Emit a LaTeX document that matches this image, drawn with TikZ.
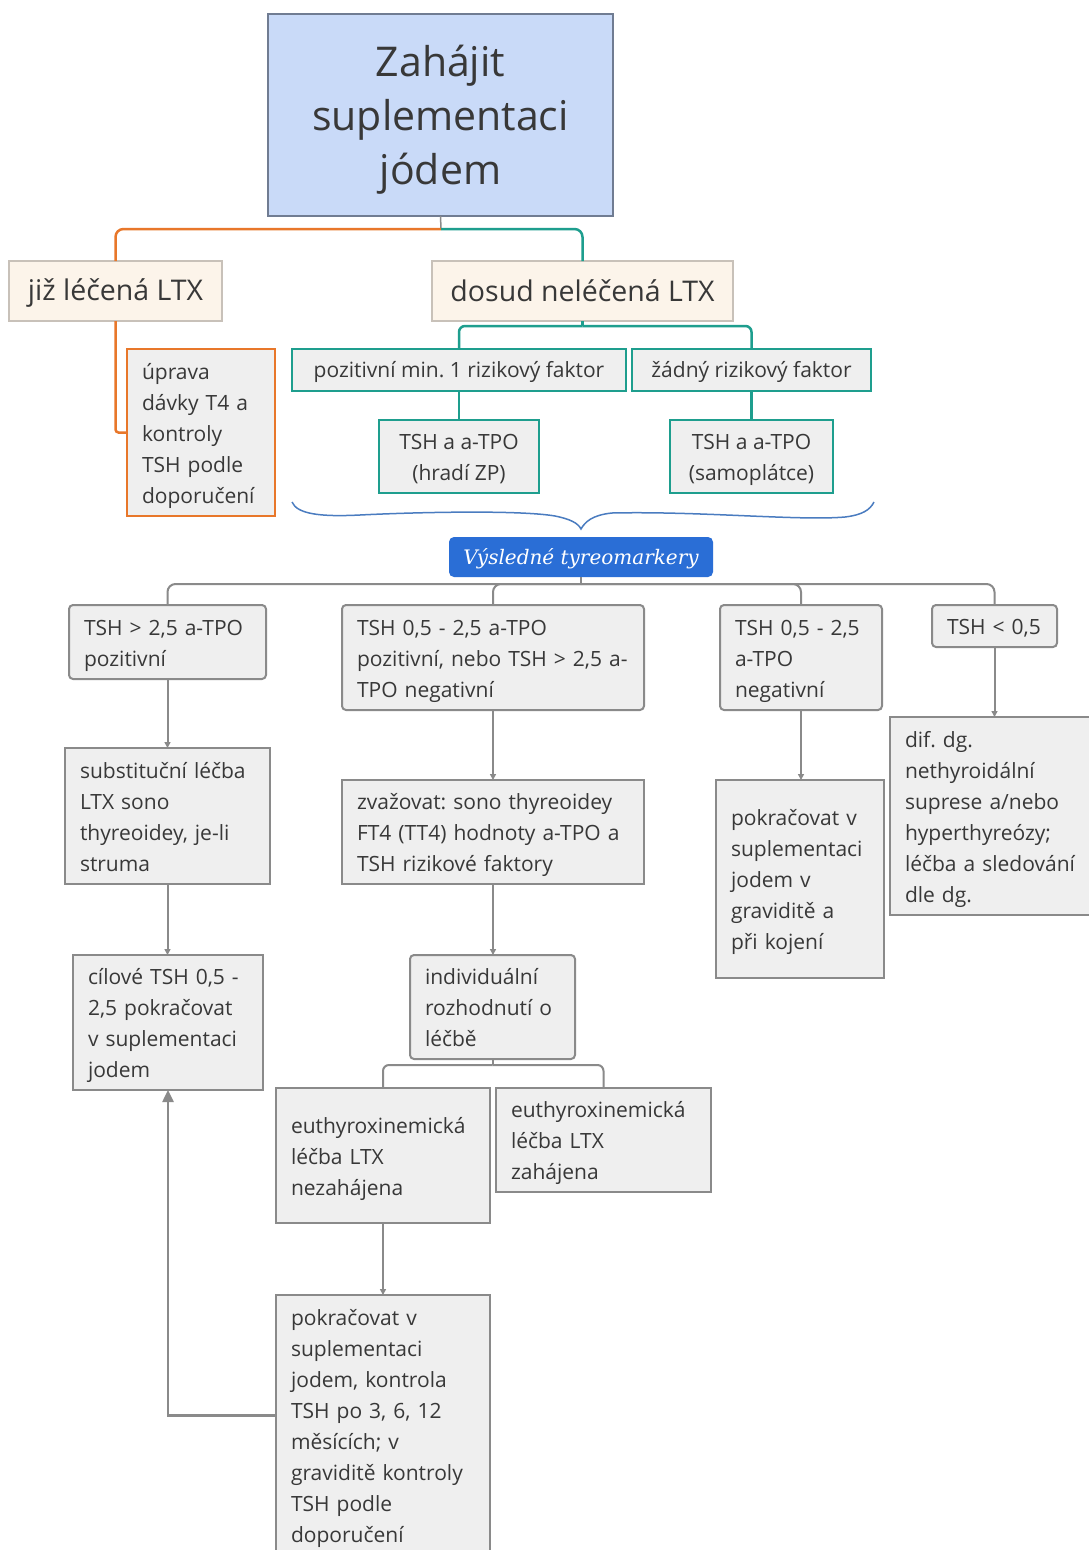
\documentclass[tikz,border=0pt]{standalone}
\usepackage{fontspec}
\setmainfont{Open Sans}
\newfontfamily\serifit{DejaVu Serif}
\usetikzlibrary{arrows.meta}
\frenchspacing
\definecolor{txt}{HTML}{383838}
\definecolor{boxfill}{HTML}{EFEFEF}
\definecolor{boxline}{HTML}{8A8A8A}
\definecolor{topfill}{HTML}{C9DAF8}
\definecolor{topline}{HTML}{707C92}
\definecolor{beige}{HTML}{FCF4EA}
\definecolor{beigeline}{HTML}{C8C1B9}
\definecolor{orng}{HTML}{E8772A}
\definecolor{tealc}{HTML}{1E9E8E}
\definecolor{bracec}{HTML}{4A7CC0}
\definecolor{lblue}{HTML}{2A6ED6}
\newcommand{\boxlines}[1]{\raisebox{0pt}[\height][\dimexpr\depth-5pt\relax]{\begin{tabular}{@{}l@{}}#1\end{tabular}}}
\newcommand{\downby}[2]{\raisebox{0pt}[\height][\dimexpr\depth-#1\relax]{#2}}
\tikzset{
  base/.style={outer sep=0pt, text=txt, font=\fontsize{21}{31}\selectfont, inner ysep=0pt, anchor=north west},
  gbox/.style={base, draw=boxline, line width=2pt, fill=boxfill, inner xsep=15pt, align=left},
  rbox/.style={gbox, rounded corners=4pt},
  obox/.style={gbox, draw=orng, line width=2.5pt},
  tbox/.style={base, draw=tealc, line width=2.5pt, fill=boxfill, align=center, inner xsep=0pt},
  topbox/.style={base, draw=topline, line width=1.5pt, fill=topfill, align=center, font=\fontsize{41}{54}\selectfont, minimum width=345, minimum height=202},
  beigebox/.style={base, draw=beigeline, line width=1.5pt, fill=beige, font=\fontsize{28.5}{34}\selectfont, minimum height=60},
  lbl/.style={base, fill=lblue, rounded corners=5pt, text=white, font=\serifit\itshape\fontsize{20}{24}\selectfont, minimum width=264, minimum height=40},
  conn/.style={draw=boxline, line width=2pt, rounded corners=8pt},
  arr/.style={conn, -{Triangle[length=6pt,width=6pt]}},
  bigarr/.style={draw=boxline, line width=2.5pt, -{Triangle[length=12pt,width=11pt]}},
}
\begin{document}
\begin{tikzpicture}[x=1pt,y=-1pt]
\path[use as bounding box, fill=white] (0,0) rectangle (1089,1550);
\clip (0,0) rectangle (1089,1550);

% top
\node[topbox] (top) at (268,14) {\downby{9pt}{\begin{tabular}{@{}c@{}}Zahájit\\suplementaci\\jódem\end{tabular}}};
\node[beigebox, minimum width=213] (ltx) at (9,261) {\downby{5pt}{již léčená LTX}};
\node[beigebox, minimum width=301] (dosud) at (432,261) {\downby{5pt}{dosud neléčená LTX}};
\coordinate (j) at (441,229);
\draw[boxline, line width=1.5pt] (top.south) -- (j);
\draw[orng, line width=2.5pt, rounded corners=8pt] (j) -| (ltx.north);
\draw[tealc, line width=2.5pt, rounded corners=8pt] (j) -| (dosud.north);

\node[obox, text width=118, minimum height=167] (uprava) at (127,349)
  {\boxlines{úprava\\dávky T4 a\\kontroly\\TSH podle\\doporučení}};
\draw[orng, line width=2.5pt, rounded corners=3pt] (ltx.south) |- (uprava.west);

\node[tbox, minimum width=334, minimum height=42] (poz) at (292,349) {\downby{4pt}{pozitivní min. 1 rizikový faktor}};
\node[tbox, minimum width=239, minimum height=42] (zad) at (632,349) {\downby{4pt}{žádný rizikový faktor}};
\node[tbox, minimum width=160, minimum height=73] (hradi) at (379,420) {\downby{5pt}{\begin{tabular}{@{}c@{}}TSH a a-TPO\\(hradí ZP)\end{tabular}}};
\node[tbox, minimum width=163, minimum height=73] (samo) at (670,420) {\downby{5pt}{\begin{tabular}{@{}c@{}}TSH a a-TPO\\(samoplátce)\end{tabular}}};
\coordinate (tj) at (dosud.south |- 0,326);
\draw[tealc, line width=2.5pt] (dosud.south) -- (tj);
\draw[tealc, line width=2.5pt, rounded corners=6pt] (tj) -| (poz.north);
\draw[tealc, line width=2.5pt, rounded corners=6pt] (tj) -| (zad.north);
\draw[tealc, line width=2.5pt] (poz.south) -- (hradi.north);
\draw[tealc, line width=2.5pt] (zad.south) -- (samo.north);

% brace
\draw[bracec, line width=1.5pt] (292,502) .. controls (297,514) and (320,517) .. (360,515)
  .. controls (420,512) and (520,510) .. (555,516)
  .. controls (570,519) and (578,523) .. (581,529)
  .. controls (585,522) and (592,515) .. (612,513)
  .. controls (700,511) and (800,521) .. (845,517)
  .. controls (862,515) and (870,510) .. (874,502);

\node[lbl] (vys) at (449,537) {\downby{3pt}{Výsledné tyreomarkery}};

% row of results
\node[rbox, text width=167, minimum height=74] (A) at (69,605) {\boxlines{TSH > 2,5 a-TPO\\pozitivní}};
\node[rbox, text width=272, minimum height=105] (B) at (342,605) {\boxlines{TSH 0,5 - 2,5 a-TPO\\pozitivní, nebo TSH > 2,5 a-\\TPO negativní}};
\node[rbox, text width=132, minimum height=105] (C) at (720,605) {\boxlines{TSH 0,5 - 2,5\\a-TPO\\negativní}};
\node[rbox, text width=95, minimum height=42] (D) at (932,605) {\boxlines{TSH < 0,5}};
\coordinate (rj) at (vys.south |- 0,584);
\draw[conn] (vys.south) -- (rj);
\draw[conn] (rj) -| (A.north);
\draw[conn] (rj) -| (B.north);
\draw[conn] (rj) -| (C.north);
\draw[conn] (rj) -| (D.north);

% column A
\node[gbox, text width=175, minimum height=136] (subst) at (65,748) {\boxlines{substituční léčba\\LTX sono\\thyreoidey, je-li\\struma}};
\node[gbox, text width=160, minimum height=135] (cil) at (73,955) {\boxlines{cílové TSH 0,5 -\\2,5 pokračovat\\v suplementaci\\jodem}};
\draw[arr] (A.south) -- (A.south |- subst.north);
\draw[arr] (subst.south) -- (subst.south |- cil.north);

% column B
\node[gbox, text width=272, minimum height=104] (zvaz) at (342,780) {\boxlines{zvažovat: sono thyreoidey\\FT4 (TT4) hodnoty a-TPO a\\TSH rizikové faktory}};
\node[rbox, text width=135, minimum height=104] (indiv) at (410,955) {\boxlines{individuální\\rozhodnutí o\\léčbě}};
\draw[arr] (B.south) -- (B.south |- zvaz.north);
\draw[arr] (zvaz.south) -- (zvaz.south |- indiv.north);

\node[gbox, text width=184, minimum height=135] (nezah) at (276,1088) {\boxlines{euthyroxinemická\\léčba LTX\\nezahájena}};
\node[gbox, text width=185, minimum height=104] (zah) at (496,1088) {\boxlines{euthyroxinemická\\léčba LTX\\zahájena}};
\coordinate (ij) at (indiv.south |- 0,1065);
\draw[conn] (indiv.south) -- (ij);
\draw[conn, rounded corners=6pt] (ij) -| (nezah.north);
\draw[conn, rounded corners=6pt] (ij) -| (zah.north);

\node[gbox, text width=184, minimum height=261] (pokr) at (276,1295) {\boxlines{pokračovat v\\suplementaci\\jodem, kontrola\\TSH po 3, 6, 12\\měsících; v\\graviditě kontroly\\TSH podle\\doporučení}};
\draw[arr] (nezah.south) -- (nezah.south |- pokr.north);
\draw[bigarr] ([yshift=10pt]pokr.west) -| (cil.south);

% column C
\node[gbox, text width=138, minimum height=198] (grav) at (716,780) {\boxlines{pokračovat v\\suplementaci\\jodem v\\graviditě a\\při kojení}};
\draw[arr] (C.south) -- (C.south |- grav.north);

% column D
\node[gbox, text width=175, minimum height=198] (dif) at (890,717) {\boxlines{dif. dg.\\nethyroidální\\suprese a/nebo\\hyperthyreózy;\\léčba a sledování\\dle dg.}};
\draw[arr] (D.south) -- (D.south |- dif.north);
\end{tikzpicture}
\end{document}
